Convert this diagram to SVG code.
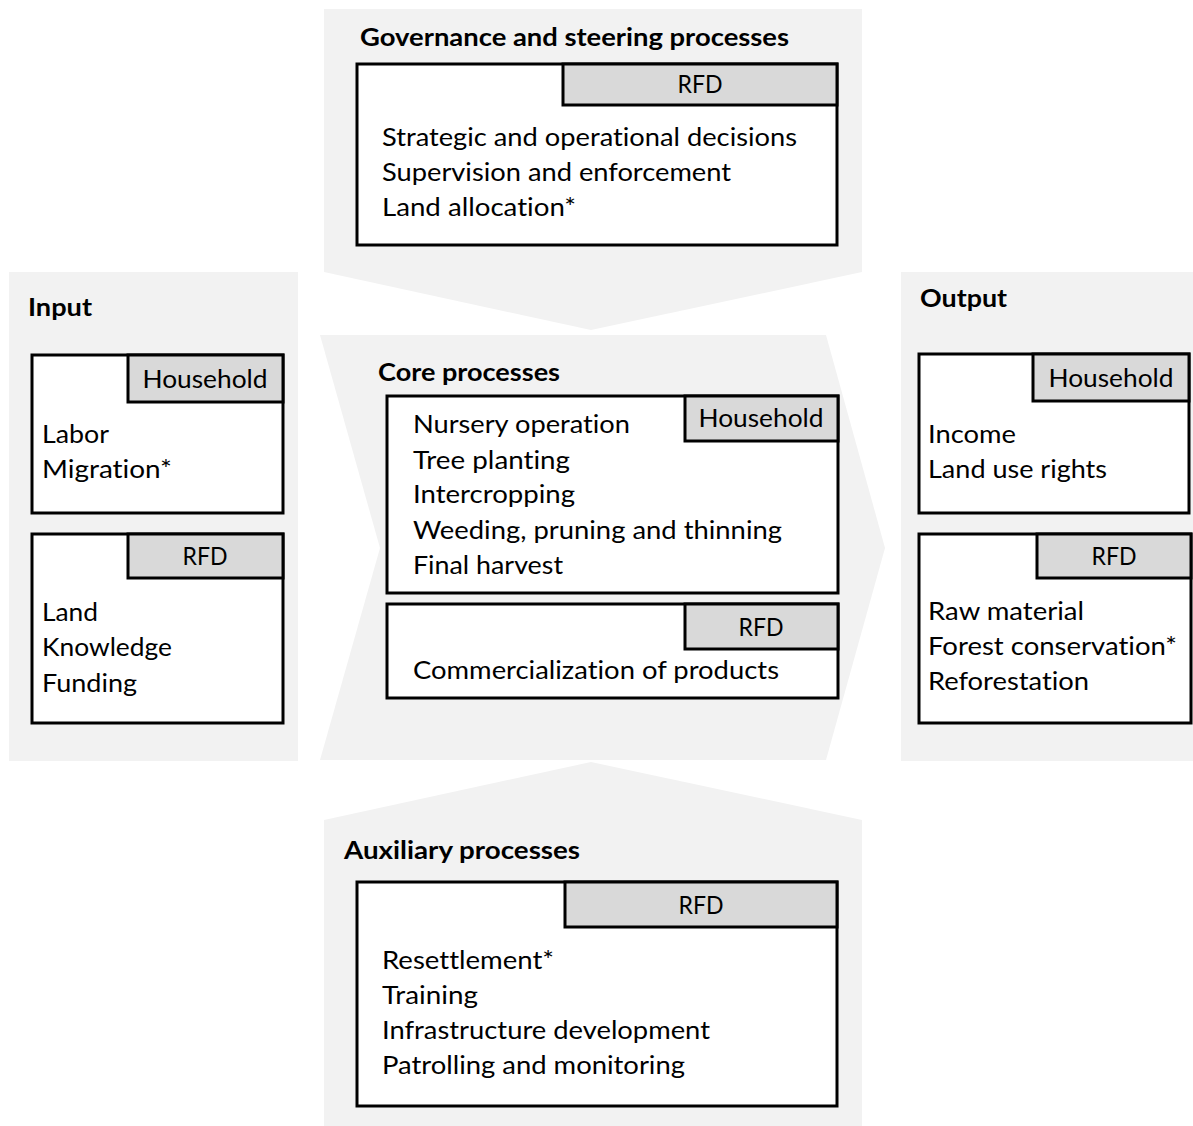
<svg xmlns="http://www.w3.org/2000/svg" width="1193" height="1126" viewBox="0 0 1193 1126">
  <style>
    .panel { fill: #f2f2f2; stroke: none; }
    .box { fill: #ffffff; stroke: #000000; stroke-width: 3; }
    .tab { fill: #d9d9d9; stroke: #000000; stroke-width: 3; }
    text { font-family: Lato, "Open Sans", "Liberation Sans", sans-serif; fill: #000000; font-variant-ligatures: none; }
    .head { font-size: 24px; font-weight: bold; }
    .item { font-size: 25px; }
    .tabtxt { font-size: 25px; text-anchor: middle; }
  </style>
  <rect width="1193" height="1126" fill="#ffffff"/>

  <!-- Governance and steering processes (top, pointing down) -->
  <g id="governance">
    <polygon class="panel" points="324,9 862,9 862,272 591,330 324,272"/>
    <text class="head" x="360" y="46" textLength="429" lengthAdjust="spacingAndGlyphs">Governance and steering processes</text>
    <g id="governance-rfd">
      <rect class="box" x="357" y="64" width="480" height="181"/>
      <rect class="tab" x="563" y="64" width="274" height="41"/>
      <text class="tabtxt" x="700" y="93" textLength="45" lengthAdjust="spacingAndGlyphs">RFD</text>
      <text class="item" x="382" y="146" textLength="415" lengthAdjust="spacingAndGlyphs">Strategic and operational decisions</text>
      <text class="item" x="382" y="181" textLength="349" lengthAdjust="spacingAndGlyphs">Supervision and enforcement</text>
      <text class="item" x="382" y="216" textLength="194" lengthAdjust="spacingAndGlyphs">Land allocation*</text>
    </g>
  </g>

  <!-- Input (left) -->
  <g id="input">
    <rect class="panel" x="9" y="272" width="289" height="489"/>
    <text class="head" x="28" y="316" textLength="64" lengthAdjust="spacingAndGlyphs">Input</text>
    <g id="input-household">
      <rect class="box" x="32" y="355" width="251" height="158"/>
      <rect class="tab" x="128" y="355" width="155" height="47"/>
      <text class="tabtxt" x="205" y="388" textLength="125" lengthAdjust="spacingAndGlyphs">Household</text>
      <text class="item" x="42" y="443" textLength="67" lengthAdjust="spacingAndGlyphs">Labor</text>
      <text class="item" x="42" y="478" textLength="130" lengthAdjust="spacingAndGlyphs">Migration*</text>
    </g>
    <g id="input-rfd">
      <rect class="box" x="32" y="534" width="251" height="189"/>
      <rect class="tab" x="128" y="534" width="155" height="44"/>
      <text class="tabtxt" x="205" y="565" textLength="45" lengthAdjust="spacingAndGlyphs">RFD</text>
      <text class="item" x="42" y="621" textLength="56" lengthAdjust="spacingAndGlyphs">Land</text>
      <text class="item" x="42" y="656" textLength="130" lengthAdjust="spacingAndGlyphs">Knowledge</text>
      <text class="item" x="42" y="692" textLength="95" lengthAdjust="spacingAndGlyphs">Funding</text>
    </g>
  </g>

  <!-- Core processes (centre chevron) -->
  <g id="core">
    <polygon class="panel" points="320,335 826,335 885,548 826,760 320,760 380,548"/>
    <text class="head" x="378" y="381" textLength="182" lengthAdjust="spacingAndGlyphs">Core processes</text>
    <g id="core-household">
      <rect class="box" x="387" y="396" width="451" height="197"/>
      <rect class="tab" x="685" y="396" width="153" height="45"/>
      <text class="tabtxt" x="761" y="427" textLength="125" lengthAdjust="spacingAndGlyphs">Household</text>
      <text class="item" x="413" y="433" textLength="217" lengthAdjust="spacingAndGlyphs">Nursery operation</text>
      <text class="item" x="413" y="469" textLength="157" lengthAdjust="spacingAndGlyphs">Tree planting</text>
      <text class="item" x="413" y="503" textLength="162" lengthAdjust="spacingAndGlyphs">Intercropping</text>
      <text class="item" x="413" y="539" textLength="369" lengthAdjust="spacingAndGlyphs">Weeding, pruning and thinning</text>
      <text class="item" x="413" y="574" textLength="150" lengthAdjust="spacingAndGlyphs">Final harvest</text>
    </g>
    <g id="core-rfd">
      <rect class="box" x="387" y="604" width="451" height="94"/>
      <rect class="tab" x="685" y="604" width="153" height="45"/>
      <text class="tabtxt" x="761" y="636" textLength="45" lengthAdjust="spacingAndGlyphs">RFD</text>
      <text class="item" x="413" y="679" textLength="366" lengthAdjust="spacingAndGlyphs">Commercialization of products</text>
    </g>
  </g>

  <!-- Output (right) -->
  <g id="output">
    <rect class="panel" x="901" y="272" width="292" height="489"/>
    <text class="head" x="920" y="307" textLength="87" lengthAdjust="spacingAndGlyphs">Output</text>
    <g id="output-household">
      <rect class="box" x="919" y="354" width="270" height="159"/>
      <rect class="tab" x="1033" y="354" width="156" height="47"/>
      <text class="tabtxt" x="1111" y="387" textLength="125" lengthAdjust="spacingAndGlyphs">Household</text>
      <text class="item" x="928" y="443" textLength="88" lengthAdjust="spacingAndGlyphs">Income</text>
      <text class="item" x="928" y="478" textLength="179" lengthAdjust="spacingAndGlyphs">Land use rights</text>
    </g>
    <g id="output-rfd">
      <rect class="box" x="919" y="534" width="272" height="189"/>
      <rect class="tab" x="1037" y="534" width="154" height="44"/>
      <text class="tabtxt" x="1114" y="565" textLength="45" lengthAdjust="spacingAndGlyphs">RFD</text>
      <text class="item" x="928" y="620" textLength="156" lengthAdjust="spacingAndGlyphs">Raw material</text>
      <text class="item" x="928" y="655" textLength="249" lengthAdjust="spacingAndGlyphs">Forest conservation*</text>
      <text class="item" x="928" y="690" textLength="161" lengthAdjust="spacingAndGlyphs">Reforestation</text>
    </g>
  </g>

  <!-- Auxiliary processes (bottom, pointing up) -->
  <g id="auxiliary">
    <polygon class="panel" points="591,762 862,820 862,1126 324,1126 324,820"/>
    <text class="head" x="344" y="859" textLength="236" lengthAdjust="spacingAndGlyphs">Auxiliary processes</text>
    <g id="auxiliary-rfd">
      <rect class="box" x="357" y="882" width="480" height="224"/>
      <rect class="tab" x="565" y="882" width="272" height="45"/>
      <text class="tabtxt" x="701" y="914" textLength="45" lengthAdjust="spacingAndGlyphs">RFD</text>
      <text class="item" x="382" y="969" textLength="172" lengthAdjust="spacingAndGlyphs">Resettlement*</text>
      <text class="item" x="382" y="1004" textLength="96" lengthAdjust="spacingAndGlyphs">Training</text>
      <text class="item" x="382" y="1039" textLength="328" lengthAdjust="spacingAndGlyphs">Infrastructure development</text>
      <text class="item" x="382" y="1074" textLength="303" lengthAdjust="spacingAndGlyphs">Patrolling and monitoring</text>
    </g>
  </g>
</svg>
